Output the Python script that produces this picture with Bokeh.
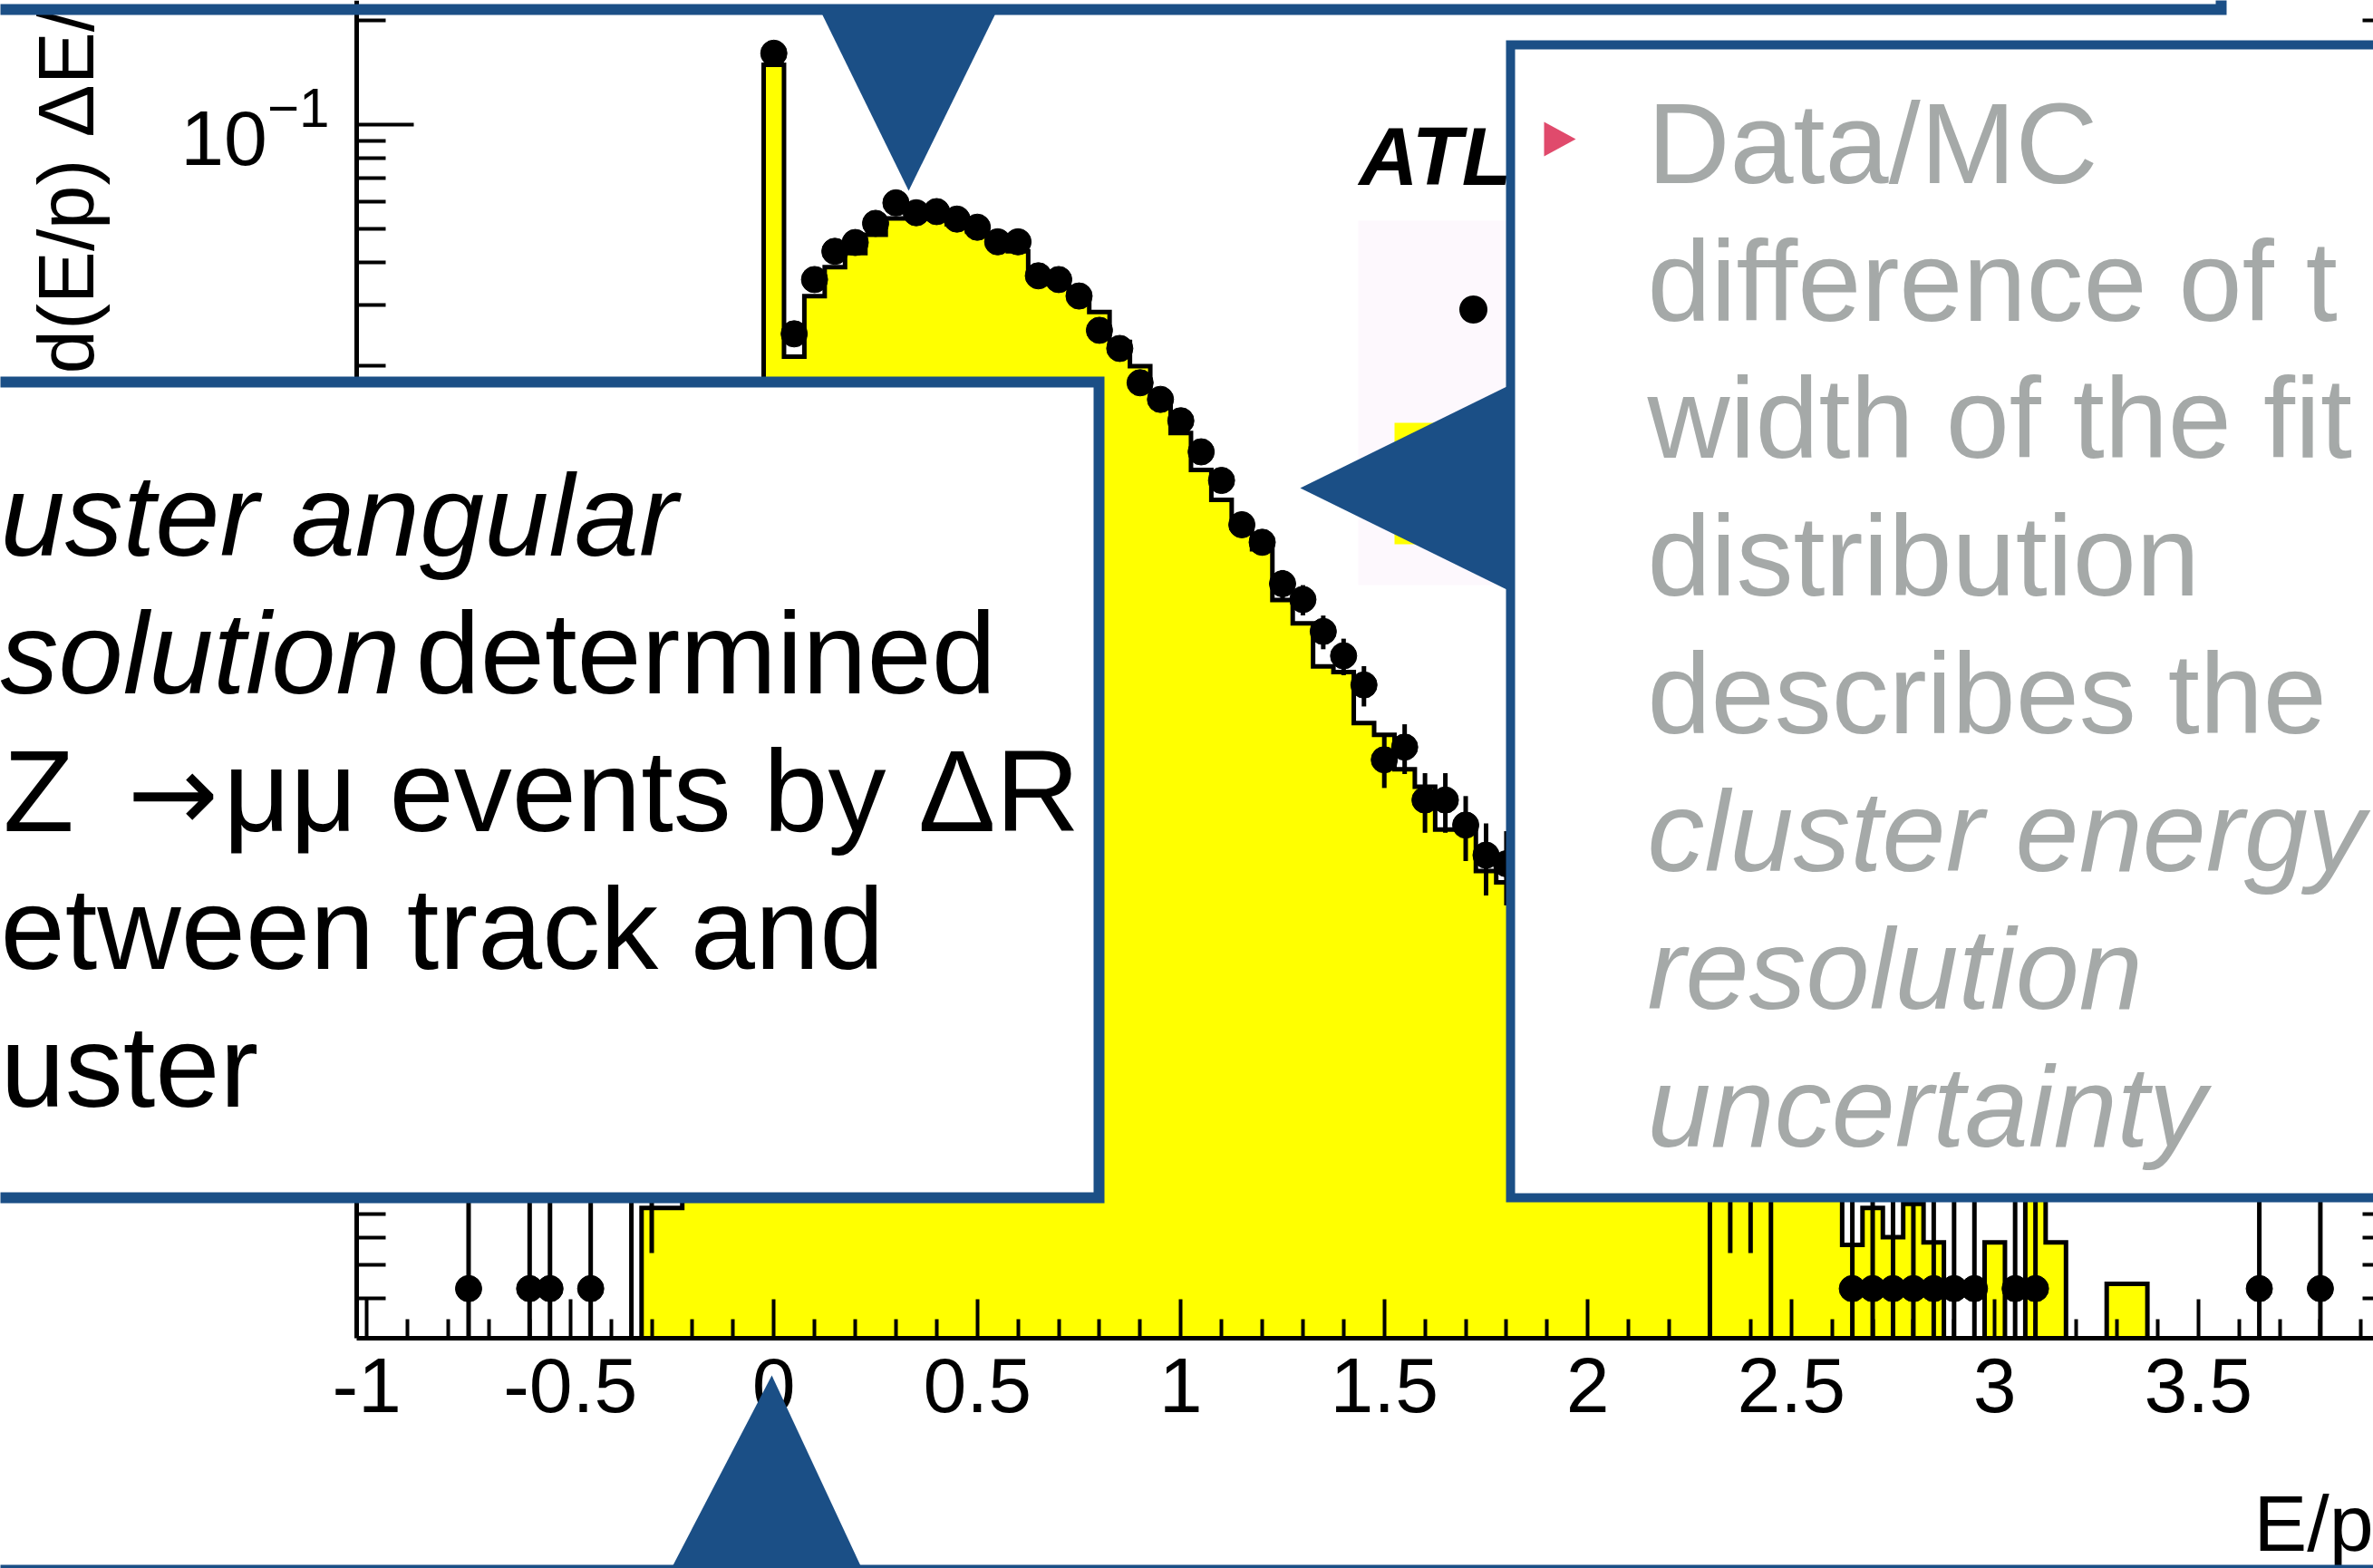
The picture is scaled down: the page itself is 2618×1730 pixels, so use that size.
import math
from bokeh.plotting import figure
from bokeh.models import (Range1d, FixedTicker, BoxAnnotation, PolyAnnotation, Label,
                          LinearAxis, LogAxis, CustomJSTickFormatter)
from bokeh.embed import file_html
from bokeh.resources import INLINE

# ---------------- data ----------------
bin_width = 0.05
mc_x = [-0.30, -0.25, -0.20, -0.15, -0.10, -0.05, 0.00, 0.05, 0.10, 0.15,
        0.20, 0.25, 0.30, 0.35, 0.40, 0.45, 0.50, 0.55, 0.60, 0.65,
        0.70, 0.75, 0.80, 0.85, 0.90, 0.95, 1.00, 1.05, 1.10, 1.15,
        1.20, 1.25, 1.30, 1.35, 1.40, 1.45, 1.50, 1.55, 1.60, 1.65,
        1.70, 1.75, 1.80, 1.85, 1.90, 1.95, 2.00, 2.05, 2.10, 2.15,
        2.20, 2.25, 2.30, 2.35, 2.40, 2.45, 2.50, 2.55, 2.60, 2.65,
        2.70, 2.75, 2.80, 2.85, 2.90, 2.95, 3.00, 3.05, 3.10, 3.15,
        3.20, 3.25, 3.30, 3.35]
mc_y = [7.3e-5, 7.3e-5, 1.6e-4, 3.8e-4, 9.5e-4, 2.8e-3, 0.149, 0.0213, 0.0319, 0.0387,
        0.0425, 0.0480, 0.0535, 0.0540, 0.0535, 0.0515, 0.0490, 0.0465, 0.0430, 0.0375,
        0.0345, 0.0320, 0.0287, 0.0235, 0.0200, 0.0160, 0.0128, 0.0100, 0.0082, 0.0068,
        0.0059, 0.0042, 0.0036, 0.0027, 0.0026, 0.00185, 0.00171, 0.00136, 0.00121, 0.00091,
        0.00091, 0.00069, 0.00064, 0.00056, 0.00049, 0.00042, 0.00036, 0.00031, 0.00027, 0.00024,
        0.00021, 0.00018, 0.00016, 0.00014, 0.00013, 0.000115, 0.000105, 0.000095, 0.00009, 5.7e-5,
        7.3e-5, 6.0e-5, 7.5e-5, 5.8e-5, 0.0, 0.0, 5.8e-5, 0.0, 9.0e-5, 5.8e-5,
        0.0, 0.0, 4.4e-5, 4.4e-5]

data_x = [-0.75, -0.60, -0.55, -0.45, -0.35, -0.30, -0.25, -0.20, -0.15, -0.10,
          -0.05, 0.00, 0.05, 0.10, 0.15, 0.20, 0.25, 0.30, 0.35, 0.40,
          0.45, 0.50, 0.55, 0.60, 0.65, 0.70, 0.75, 0.80, 0.85, 0.90,
          0.95, 1.00, 1.05, 1.10, 1.15, 1.20, 1.25, 1.30, 1.35, 1.40,
          1.45, 1.50, 1.55, 1.60, 1.65, 1.70, 1.75, 1.80, 1.85, 1.90,
          1.95, 2.00, 2.05, 2.10, 2.15, 2.20, 2.25, 2.30, 2.35, 2.40,
          2.45, 2.50, 2.65, 2.70, 2.75, 2.80, 2.85, 2.90, 2.95, 3.05,
          3.10, 3.65, 3.80]
data_n = [1, 1, 1, 1, 2, 3, 5, 4, 9, 22,
          64, 3780, 582, 836, 1009, 1070, 1216, 1394, 1305, 1315,
          1251, 1185, 1075, 1075, 857, 836, 749, 596, 528, 420,
          376, 326, 265, 219, 163, 145, 110, 99, 80, 68,
          56, 34, 37, 26, 26, 22, 18, 17, 15, 13,
          11, 9, 8, 7, 6, 5, 4, 2, 3, 3,
          2, 4, 1, 1, 1, 1, 1, 1, 1, 1,
          1, 1, 1]
event_weight = 4.26e-5   # normalised height of one event

x_ticks = [-1.0, -0.5, 0.0, 0.5, 1.0, 1.5, 2.0, 2.5, 3.0, 3.5]
x_tick_labels = ["-1", "-0.5", "0", "0.5", "1", "1.5", "2", "2.5", "3", "3.5"]
y_ticks = [1e-4, 1e-3, 1e-2, 1e-1]
x_axis_span = (-1.025, 3.975)
y_axis_span = (3.06e-5, 0.229)

y_title = "d(E/p) \u0394E/"
x_title = "E/p"
atlas_text = "ATL"
# (text, style, left x, font)
left_lines = [
    [("uster angular", "italic", 0, None)],
    [("solution", "italic", 0, None), ("determined", "normal", 458, None)],
    [("Z", "normal", 3, None), ("\u2192", "normal", 140, "DejaVu Sans"),
     ("\u03bc\u03bc events by \u0394R", "normal", 246, None)],
    [("etween track and", "normal", 0, None)],
    [("uster", "normal", 0, None)],
]
right_lines = [
    ("Data/MC", "normal"),
    ("difference of t", "normal"),
    ("width of the fit", "normal"),
    ("distribution", "normal"),
    ("describes the", "normal"),
    ("cluster energy", "italic"),
    ("resolution", "italic"),
    ("uncertainty", "italic"),
]

# ---------------- layout / style ----------------
W, H = 2618, 1730
FL, FB = 393, 1476          # where the histogram frame's left / bottom edges sit (canvas px)
PX_PER_UNIT = 449.0
BLUE = "#1b4f86"
GREY = "#a5a9a8"
FONT = "Liberation Sans"
BASE_K = 0.34               # label anchor -> alphabetic baseline offset (fraction of font size)

ly0, ly1 = math.log10(y_axis_span[0]), math.log10(y_axis_span[1])
px_per_dec = FB / (ly1 - ly0)
y_canvas_bottom = 10 ** (ly0 - (H - FB) / px_per_dec)
x_canvas_left = x_axis_span[0] - FL / PX_PER_UNIT
x_canvas_right = x_axis_span[0] + (W - FL) / PX_PER_UNIT

def sx(cx):
    return cx

def sy(cy):
    return H - cy

p = figure(width=W, height=H,
           x_range=Range1d(x_canvas_left, x_canvas_right),
           y_range=Range1d(y_canvas_bottom, y_axis_span[1]),
           y_axis_type="log", x_axis_location=None, y_axis_location=None,
           output_backend="svg", toolbar_location=None,
           min_border_left=0, min_border_right=0, min_border_top=0, min_border_bottom=0)
p.outline_line_color = None
p.background_fill_color = "white"
p.border_fill_color = "white"
p.xgrid.visible = False
p.ygrid.visible = False

minor_x = [round(-1.0 + 0.1 * i, 2) for i in range(0, 50)]
minor_x = [m for m in minor_x
           if all(abs(m - t) > 1e-6 for t in x_ticks) and x_axis_span[0] <= m <= x_axis_span[1]]
minor_y = [m * 10.0 ** e for e in range(-5, 0) for m in range(2, 10)]
minor_y = [m for m in minor_y if y_axis_span[0] <= m <= 1.0]

xax = LinearAxis(fixed_location=y_axis_span[0], bounds=x_axis_span,
                 ticker=FixedTicker(ticks=x_ticks, minor_ticks=minor_x))
xax.major_label_overrides = dict(zip(x_ticks, x_tick_labels))
yax = LogAxis(fixed_location=x_axis_span[0], bounds=(y_axis_span[0], 1.0),
              ticker=FixedTicker(ticks=y_ticks, minor_ticks=minor_y))
yax_r = LogAxis(fixed_location=x_axis_span[1], bounds=(y_axis_span[0], 1.0),
                ticker=FixedTicker(ticks=y_ticks, minor_ticks=minor_y),
                formatter=CustomJSTickFormatter(code="return ''"))
for ax in (xax, yax, yax_r):
    ax.axis_line_width = 5
    ax.axis_line_color = "black"
    ax.major_tick_line_width = 4
    ax.minor_tick_line_width = 4
    ax.major_tick_out = 0
    ax.minor_tick_out = 0
    ax.major_label_text_font = FONT
    ax.major_label_text_font_size = "86px"
    ax.major_label_text_color = "black"
xax.major_tick_in = 43
xax.minor_tick_in = 21
xax.major_label_standoff = 22
for ax in (yax, yax_r):
    ax.major_tick_in = 63
    ax.minor_tick_in = 32
yax.major_label_standoff = 30
p.add_layout(xax, "below")
p.add_layout(yax, "left")
p.add_layout(yax_r, "right")

# ---------------- MC histogram ----------------
floor = y_axis_span[0]
half = bin_width / 2
ox, oy = [], []
for c, v in zip(mc_x, mc_y):
    vv = v if v > floor else floor
    ox += [c - half, c + half]
    oy += [vv, vv]
ox = [ox[0]] + ox + [ox[-1]]
oy = [floor] + oy + [floor]
p.patch(ox, oy, fill_color="#ffff00", line_color=None)
p.line(ox, oy, line_color="black", line_width=5, line_join="miter")

# ---------------- data points ----------------
data_y = [n * event_weight for n in data_n]
data_e = [math.sqrt(n) * event_weight for n in data_n]
lo = [max(y - e, floor) for y, e in zip(data_y, data_e)]
hi = [y + e for y, e in zip(data_y, data_e)]
p.segment(x0=data_x, y0=lo, x1=data_x, y1=hi, line_color="black", line_width=5)
p.scatter(data_x, data_y, size=29, fill_color="black", line_color="black")

# ---------------- helpers for annotations ----------------
def box(l, r, t, b, fill=None, line=None, lw=0):
    ba = BoxAnnotation(left=sx(l), right=sx(r), top=sy(t), bottom=sy(b),
                       left_units="screen", right_units="screen",
                       top_units="screen", bottom_units="screen",
                       fill_color=fill if fill else "white",
                       fill_alpha=1.0 if fill else 0.0,
                       line_color=line if line else "white",
                       line_alpha=1.0 if line else 0.0,
                       line_width=lw, line_join="miter")
    p.add_layout(ba)

def poly(pts, color):
    p.add_layout(PolyAnnotation(xs=[sx(a) for a, b in pts], ys=[sy(b) for a, b in pts],
                                xs_units="screen", ys_units="screen",
                                fill_color=color, fill_alpha=1.0,
                                line_color=None))

def label(x, base, text, size, color="black", style="normal", vertical=False, font=None):
    if vertical:
        ax_, ay_ = x - BASE_K * size, base
    else:
        ax_, ay_ = x, base - BASE_K * size
    p.add_layout(Label(x=sx(ax_), y=sy(ay_), x_units="screen", y_units="screen",
                       text=text, text_font=font or FONT, text_font_size="%dpx" % size,
                       text_color=color, text_font_style=style,
                       angle=(math.pi / 2 if vertical else 0.0),
                       text_align="left", text_baseline="alphabetic"))

# in-plot legend and experiment label
box(1498, 1700, 243, 645, fill="#fdf8fd")
box(1538, 1700, 466, 600, fill="#ffff00")
dot = [(1625 + 15.5 * math.cos(2 * math.pi * k / 48), 341 + 15.5 * math.sin(2 * math.pi * k / 48))
       for k in range(48)]
poly(dot, "black")
label(1499, 203, atlas_text, 90, style="bold italic")

# axis titles
label(102, 412, y_title, 87, vertical=True)
label(2486, 1710, x_title, 88)

# ---------------- slide overlays ----------------
box(-40, 1212, 421, 1321, fill="white", line=BLUE, lw=12)
box(1666, 2700, 49, 1321, fill="white", line=BLUE, lw=10)
box(-40, 2450, -80, 10, line=BLUE, lw=12)
box(-40, 2700, 1731, 1800, line=BLUE, lw=10)

poly([(903, 8), (1101, 8), (1002, 210)], BLUE)
poly([(1434, 538), (1666, 424), (1666, 652)], BLUE)
poly([(851, 1517), (735, 1740), (955, 1740)], BLUE)
poly([(1703, 134), (1703, 172), (1738, 153)], "#e04a6c")

left_base = [612, 764, 916, 1068, 1220]
for base, parts in zip(left_base, left_lines):
    for text, style, x0, font in parts:
        label(x0, base, text, 120 if font else 128, style=style, font=font)

right_base = [201, 353, 504, 656, 808, 960, 1112, 1264]
for base, (text, style) in zip(right_base, right_lines):
    label(1817, base, text, 126, color=GREY, style=style)

open("out.html", "w").write(file_html(p, INLINE))
